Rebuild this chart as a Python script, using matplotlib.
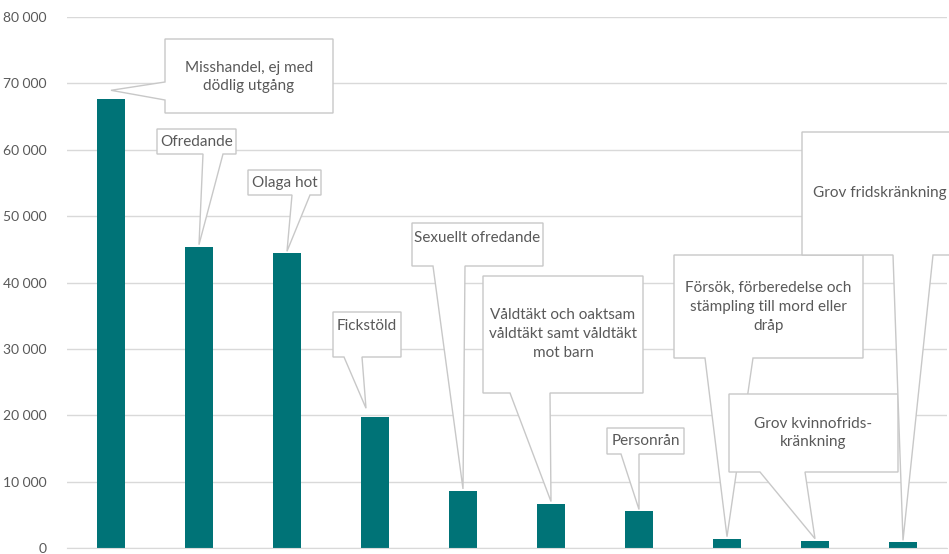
import numpy as np
import matplotlib.pyplot as plt
from matplotlib.patches import Polygon
from matplotlib.transforms import IdentityTransform
from matplotlib.ticker import FuncFormatter

plt.rcParams['font.family'] = ['Lato', 'DejaVu Sans']

# data
labels = ["Misshandel, ej med\ndödlig utgång", "Ofredande", "Olaga hot", "Fickstöld",
          "Sexuellt ofredande", "Våldtäkt och oaktsam\nvåldtäkt samt våldtäkt\nmot barn",
          "Personrån", "Försök, förberedelse och\nstämpling till mord eller\ndråp",
          "Grov kvinnofrids-\nkränkning", "Grov fridskränkning"]
values = [67600, 45400, 44400, 19700, 8600, 6700, 5500, 1400, 1100, 850]
yticks = np.arange(0, 80001, 10000)

# callout boxes in image pixels: left, top, right, bottom, side, base start, base end, text y
boxes = [
    (165, 39, 333, 113, 'left', 82, 100, 77),
    (157, 129, 236, 154, 'bottom', 203, 223, 142),
    (248, 170, 321, 195, 'bottom', 292, 310, 183),
    (333, 312, 401, 357, 'bottom', 344, 362, 326),
    (412, 223, 543, 266, 'bottom', 433, 465, 238),
    (483, 276, 643, 393, 'bottom', 510, 550, 334),
    (607, 428, 684, 454, 'bottom', 621, 639, 441),
    (674, 255, 863, 358, 'bottom', 705, 753, 307),
    (729, 394, 898, 472, 'bottom', 760, 805, 433),
    (802, 132, 958, 255, 'bottom', 893, 933, 193),
]
# small shifts of the pointer tip from the bar top, pixels
tip_shift = [(0, 9), (0, 2), (0, 2), (-9, 9), (0, 2), (0, 2), (0, 2), (0, 2), (0, 2), (0, 2)]

W, H = 949, 554
grey = '#595959'
line = '#c8c8c8'

fig = plt.figure(figsize=(W / 100, H / 100), dpi=100)
ax = fig.add_axes([67 / W, 6 / H, 880 / W, 531 / H])

x = np.arange(len(values))
ax.bar(x, values, width=0.31, color='#007377', zorder=2)
ax.set_xlim(-0.5, len(values) - 0.5)
ax.set_ylim(0, 80000)
ax.set_yticks(yticks)
ax.yaxis.set_major_formatter(FuncFormatter(lambda v, p: f"{int(v):,}".replace(",", " ")))
ax.set_xticks([])
ax.tick_params(axis='y', length=0, pad=15, labelsize=10, labelcolor=grey)
ax.grid(axis='y', color='#d9d9d9', linewidth=1, zorder=0)
for s in ['top', 'left', 'right']:
    ax.spines[s].set_visible(False)
ax.spines['bottom'].set_color('#d9d9d9')

tr = IdentityTransform()
for i, (lab, b) in enumerate(zip(labels, boxes)):
    l, t, r, btm, side, b1, b2, ty_txt = b
    tx, ty = ax.transData.transform((i, values[i]))
    tx, ty = tx + tip_shift[i][0], ty + tip_shift[i][1]
    t, btm, b1y, b2y = H - t, H - btm, H - b1, H - b2
    if side == 'left':
        pts = [(l, t), (r, t), (r, btm), (l, btm), (l, b2y), (tx, ty), (l, b1y)]
    else:
        pts = [(l, t), (r, t), (r, btm), (b2, btm), (tx, ty), (b1, btm), (l, btm)]
    fig.add_artist(Polygon(pts, closed=True, facecolor='white', edgecolor=line,
                           linewidth=1, transform=tr, zorder=3 + i))
    fig.text((l + r) / 2, H - ty_txt, lab, transform=tr, ha='center', va='center',
             fontsize=11, color=grey, linespacing=1.45, zorder=3 + i)

fig.savefig('out.png', dpi=100)
